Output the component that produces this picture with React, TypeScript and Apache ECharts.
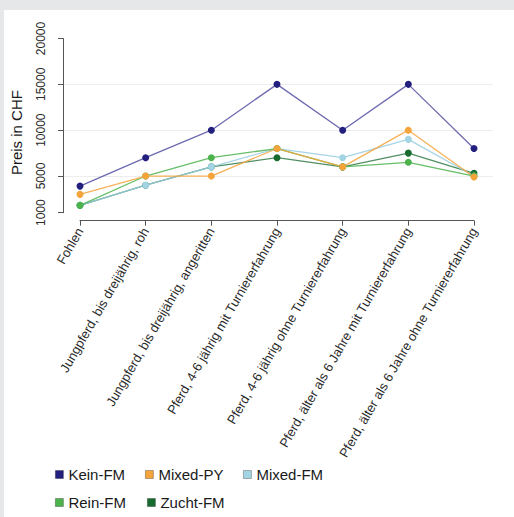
import React, { useEffect, useRef } from "react";
import * as echarts from "echarts";

const categories = [
  "Fohlen",
  "Jungpferd, bis dreijährig, roh",
  "Jungpferd, bis dreijährig, angeritten",
  "Pferd, 4-6 jährig mit Turniererfahrung",
  "Pferd, 4-6 jährig ohne Turniererfahrung",
  "Pferd, älter als 6 Jahre mit Turniererfahrung",
  "Pferd, älter als 6 Jahre ohne Turniererfahrung",
];
const keinFM = [3900, 7000, 10000, 15000, 10000, 15000, 8000];
const mixedPY = [3000, 5000, 5000, 8000, 6000, 10000, 4900];
const mixedFM = [1800, 4000, 6000, 8000, 7000, 9000, 5000];
const reinFM = [1800, 5000, 7000, 8000, 6000, 6500, 5000];
const zuchtFM = [1800, 4000, 6000, 7000, 6000, 7500, 5300];
const yTicks = [1000, 5000, 10000, 15000, 20000];

const FONT = "'Liberation Sans', Arial, Helvetica, sans-serif";

export default function App() {
  const ref = useRef<HTMLDivElement>(null);
  useEffect(() => {
    if (!ref.current) return;
    const chart = echarts.init(ref.current, undefined, { renderer: "svg" });
    const mk = (name: string, data: number[], color: string, lineColor: string) => ({
      name,
      type: "line",
      xAxisIndex: 0,
      yAxisIndex: 0,
      data,
      symbol: "circle",
      symbolSize: 7,
      itemStyle: { color },
      lineStyle: { color: lineColor, width: 1.3 },
      emphasis: { disabled: true },
    });
    const legendItem = (name: string, left: number, top: number) => ({
      data: [name],
      left,
      top,
      padding: 0,
      icon: "rect",
      itemWidth: 8,
      itemHeight: 8,
      itemGap: 0,
      selectedMode: false,
      itemStyle: { borderColor: "rgba(0,0,0,0.35)", borderWidth: 0.8 },
      textStyle: { fontSize: 15, color: "#1a1a1a", fontFamily: FONT },
    });
    chart.setOption({
      animation: false,
      backgroundColor: "#ffffff",
      graphic: [
        { type: "rect", shape: { x: 0, y: 0, width: 514, height: 10 }, style: { fill: "#e6e7e9" }, z: 100 },
        { type: "rect", shape: { x: 0, y: 0, width: 4, height: 517 }, style: { fill: "#e6e7e9" }, z: 100 },
      ],
      grid: [
        { left: 80, right: 40, top: 38.5, bottom: 304.3 },
        { left: 64, right: 21, top: 38.5, bottom: 295.1 },
      ],
      xAxis: [
        {
          type: "category",
          gridIndex: 0,
          data: categories,
          boundaryGap: false,
          offset: 8,
          axisLine: { lineStyle: { color: "#555", width: 1 } },
          axisTick: { length: 5, lineStyle: { color: "#555" } },
          axisLabel: {
            interval: 0,
            rotate: 60,
            margin: 8,
            fontSize: 13,
            color: "#2a2a2a",
            fontFamily: FONT,
          },
          splitLine: { show: false },
        },
        {
          type: "value",
          gridIndex: 1,
          show: false,
          min: 0,
          max: 1,
        },
      ],
      yAxis: [
        {
          type: "value",
          gridIndex: 0,
          min: 1000,
          max: 20000,
          offset: 17,
          name: "Preis in CHF",
          nameLocation: "middle",
          nameRotate: 90,
          nameGap: 39,
          nameTextStyle: {
            fontSize: 15,
            color: "#1a1a1a",
            fontFamily: FONT,
            padding: [0, 14, 0, 0],
          },
          axisLine: { show: true, lineStyle: { color: "#555", width: 1 } },
          axisTick: { show: true, length: 5, customValues: yTicks, lineStyle: { color: "#555" } },
          axisLabel: {
            customValues: yTicks,
            rotate: 90,
            margin: 16,
            fontSize: 12,
            color: "#2a2a2a",
            fontFamily: FONT,
            formatter: (v: number) => String(v),
          },
          splitLine: { show: false },
        },
        {
          type: "value",
          gridIndex: 1,
          min: 0,
          max: 20000,
          interval: 5000,
          axisLine: { show: false },
          axisTick: { show: false },
          axisLabel: { show: false },
          splitLine: {
            show: true,
            showMinLine: false,
            showMaxLine: false,
            lineStyle: { color: "#ededed", width: 1 },
          },
        },
      ],
      legend: [
        legendItem("Kein-FM", 55, 467),
        legendItem("Mixed-PY", 145, 467),
        legendItem("Mixed-FM", 243, 467),
        legendItem("Rein-FM", 55, 495),
        legendItem("Zucht-FM", 147, 495),
      ],
      series: [
        mk("Kein-FM", keinFM, "#231f7e", "rgba(60,56,150,0.75)"),
        mk("Zucht-FM", zuchtFM, "#176b2f", "rgba(23,107,47,0.75)"),
        mk("Mixed-FM", mixedFM, "#a3d4e4", "rgba(150,205,224,0.85)"),
        mk("Rein-FM", reinFM, "#4cb34c", "rgba(76,179,76,0.85)"),
        mk("Mixed-PY", mixedPY, "#f5a43c", "rgba(245,164,60,0.85)"),
      ],
    });
    return () => chart.dispose();
  }, []);
  return (
    <div
      ref={ref}
      style={{ position: "absolute", left: 0, top: 0, width: 514, height: 517 }}
    />
  );
}
